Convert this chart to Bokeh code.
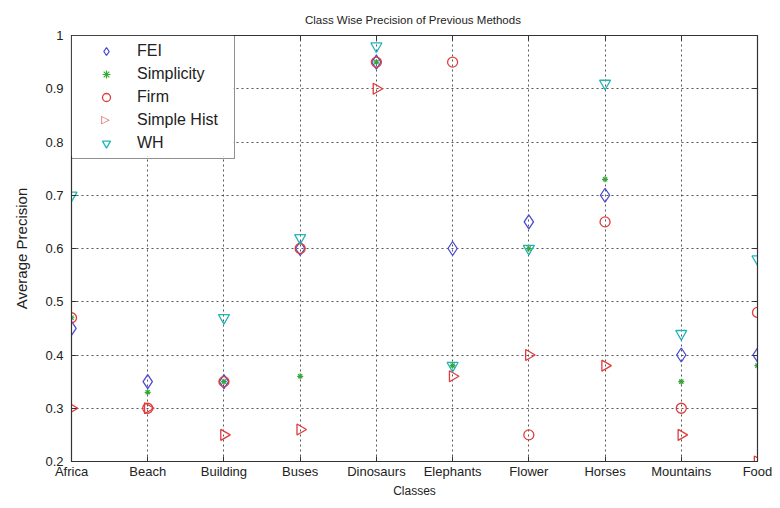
import math
from bokeh.plotting import figure
from bokeh.models import (ColumnDataSource, FixedTicker, LinearAxis, Legend, LegendItem, Range1d,
                          CustomJSTickFormatter, Label, BoxAnnotation)
from bokeh.embed import file_html
from bokeh.resources import INLINE

categories = ["Africa", "Beach", "Building", "Buses", "Dinosaurs", "Elephants",
              "Flower", "Horses", "Mountains", "Food"]
fei = [0.45, 0.35, 0.35, 0.60, 0.95, 0.60, 0.65, 0.70, 0.40, 0.40]
simplicity = [0.47, 0.33, 0.35, 0.36, 0.95, 0.38, 0.60, 0.73, 0.35, 0.38]
firm = [0.47, 0.30, 0.35, 0.60, 0.95, 0.95, 0.25, 0.65, 0.30, 0.48]
simple_hist = [0.30, 0.30, 0.25, 0.26, 0.90, 0.36, 0.40, 0.38, 0.25, 0.20]
wh = [0.70, float("nan"), 0.47, 0.62, 0.98, 0.38, 0.60, 0.91, 0.44, 0.58]
y_ticks = [0.2, 0.3, 0.4, 0.5, 0.6, 0.7, 0.8, 0.9, 1.0]
y_tick_labels = ["0.2", "0.3", "0.4", "0.5", "0.6", "0.7", "0.8", "0.9", "1"]

xs = list(range(1, len(categories) + 1))
src = ColumnDataSource(dict(x=xs, fei=fei, simplicity=simplicity, firm=firm,
                            simple_hist=simple_hist, wh=wh))

FONT = "Liberation Sans"
BLUE, GREEN, RED, CYAN = "#4a4ad8", "#3aa63a", "#e03c3c", "#20b4b4"

X0, X1, Y0, Y1 = 1, len(categories), 0.2, 1.0
FRAME_W, FRAME_H = 686, 426
p = figure(width=780, height=508, output_backend="svg", toolbar_location=None,
           x_range=Range1d(X0, X1), y_range=Range1d(Y0, Y1),
           min_border_left=71, min_border_right=23, min_border_top=35, min_border_bottom=47)
p.title.text = "Class Wise Precision  of Previous Methods"
p.title.align = "center"
p.title.text_font = FONT
p.title.text_font_size = "11.5px"
p.title.text_font_style = "normal"
p.title.text_color = "#222222"
p.title.offset = 0
p.title.standoff = 20

p.outline_line_color = "#333333"
p.outline_line_width = 1.2

p.xaxis.ticker = FixedTicker(ticks=xs)
p.xaxis.major_label_overrides = {x: c for x, c in zip(xs, categories)}
p.yaxis.ticker = FixedTicker(ticks=y_ticks)
p.yaxis.major_label_overrides = dict(zip(y_ticks, y_tick_labels))
for ax in (p.xaxis[0], p.yaxis[0]):
    ax.major_tick_in = 5
    ax.major_tick_out = 0
    ax.minor_tick_in = 0
    ax.minor_tick_out = 0
    ax.axis_line_color = "#333333"
    ax.major_tick_line_color = "#333333"
    ax.major_label_text_font = FONT
    ax.major_label_text_font_size = "13px"
    ax.major_label_text_color = "#222222"
    ax.axis_label_text_font = FONT
    ax.axis_label_text_font_style = "normal"
    ax.axis_label_text_color = "#222222"
p.xaxis.axis_label = "Classes"
p.yaxis.axis_label = "Average Precision"
p.xaxis.axis_label_text_font_size = "12px"
p.yaxis.axis_label_text_font_size = "15px"
p.xaxis.major_label_standoff = 2
p.xaxis.axis_label_standoff = 2
p.yaxis.major_label_standoff = 8
p.yaxis.axis_label_standoff = 12

blank = CustomJSTickFormatter(code="return ''")
ra = LinearAxis(ticker=FixedTicker(ticks=y_ticks), major_tick_in=5, major_tick_out=0,
                minor_tick_in=0, minor_tick_out=0, formatter=blank, major_label_standoff=0,
                major_label_text_font_size="1px",
                axis_line_color="#333333", major_tick_line_color="#333333")
p.add_layout(ra, "right")
ta = LinearAxis(ticker=FixedTicker(ticks=xs), major_tick_in=5, major_tick_out=0,
                minor_tick_in=0, minor_tick_out=0, formatter=blank, major_label_standoff=0,
                major_label_text_font_size="1px",
                axis_line_color="#333333", major_tick_line_color="#333333")
p.add_layout(ta, "above")

for g in (p.xgrid[0], p.ygrid[0]):
    g.grid_line_color = "#444444"
    g.grid_line_dash = "2 3"
    g.grid_line_width = 1
    g.grid_line_alpha = 0.9

r_fei = p.scatter("x", "fei", source=src, marker="diamond", size=14, fill_color=None,
                  line_color=BLUE, line_width=1.3)
r_simp = p.scatter("x", "simplicity", source=src, marker="asterisk", size=6,
                   line_color=GREEN, line_width=1.2)
r_firm = p.scatter("x", "firm", source=src, marker="circle", size=10, fill_color=None,
                   line_color=RED, line_width=1.3)
r_sh = p.scatter("x", "simple_hist", source=src, marker="triangle", size=11, angle=-math.pi / 2,
                 fill_color=None, line_color=RED, line_width=1.3)
r_wh = p.scatter("x", "wh", source=src, marker="inverted_triangle", size=11, fill_color=None,
                 line_color=CYAN, line_width=1.3)
# empty stand-in for the legend entry (its right-pointing symbol is drawn by a label below)
r_sh_key = p.scatter(x=[], y=[], marker="triangle", size=1, fill_alpha=0, line_alpha=0)

PAD, ITEM_H, SPACING, GLYPH_W, LABEL_W = 5, 20, 3, 58, 92
LEG_W = 163
LEG_H = 2 * PAD + 5 * ITEM_H + 4 * SPACING

# white backing for the (transparent) legend box, inset under its border
p.add_layout(BoxAnnotation(left=X0, top=Y1,
                           right=X0 + (LEG_W - 1) * (X1 - X0) / FRAME_W,
                           bottom=Y1 - (LEG_H - 1) * (Y1 - Y0) / FRAME_H,
                           fill_color="white", fill_alpha=1, line_alpha=0))

legend = Legend(items=[LegendItem(label="FEI", renderers=[r_fei]),
                       LegendItem(label="Simplicity", renderers=[r_simp]),
                       LegendItem(label="Firm", renderers=[r_firm]),
                       LegendItem(label="Simple Hist", renderers=[r_sh_key]),
                       LegendItem(label="WH", renderers=[r_wh])],
                location="top_left")
legend.margin = 0
legend.padding = PAD
legend.spacing = SPACING
legend.label_height = ITEM_H
legend.glyph_height = ITEM_H
legend.glyph_width = GLYPH_W
legend.label_standoff = 2
legend.label_width = LABEL_W
legend.label_text_font = FONT
legend.label_text_font_size = "16px"
legend.label_text_color = "#222222"
legend.border_line_color = "#222222"
legend.border_line_width = 1.2
legend.background_fill_alpha = 0
p.add_layout(legend, "center")

key = Label(x=X0, y=Y1, x_units="data", y_units="data", x_offset=PAD + GLYPH_W / 2,
            y_offset=-(PAD + 3 * (ITEM_H + SPACING) + ITEM_H / 2),
            text="\u25b7", text_font="DejaVu Sans", text_font_size="11px", text_color=RED,
            text_align="center", text_baseline="middle")
p.add_layout(key, "center")

open("out.html", "w").write(file_html(p, INLINE))
